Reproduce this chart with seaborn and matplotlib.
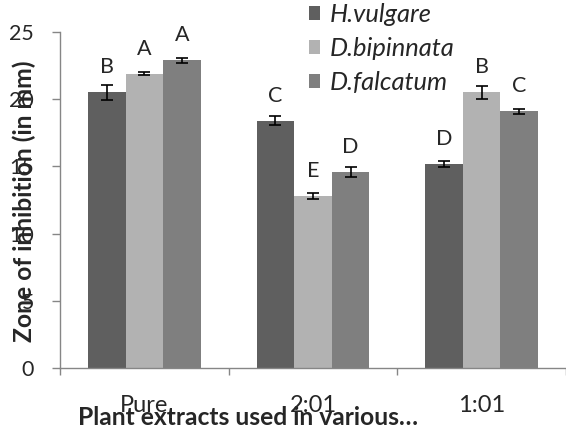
import pandas as pd
import numpy as np
import matplotlib.pyplot as plt
import seaborn as sns


# ----------------------------------------------------------
# Data
# ----------------------------------------------------------
categories = ["Pure", "2:01", "1:01"]
species = ["H.vulgare", "D.bipinnata", "D.falcatum"]

h_vulgare = [20.5, 18.4, 15.2]
d_bipinnata = [21.9, 12.8, 20.5]
d_falcatum = [22.9, 14.6, 19.1]

h_vulgare_err = [0.55, 0.35, 0.22]
d_bipinnata_err = [0.13, 0.2, 0.5]
d_falcatum_err = [0.2, 0.37, 0.19]

h_vulgare_letters = ["B", "C", "D"]
d_bipinnata_letters = ["A", "E", "B"]
d_falcatum_letters = ["A", "D", "C"]

colors = ["#5f5f5f", "#b2b2b2", "#7f7f7f"]
y_ticks = [0, 5, 10, 15, 20, 25]

W, H = 566, 434


def build_frame():
    rows = []
    values = [h_vulgare, d_bipinnata, d_falcatum]
    for sp, vals in zip(species, values):
        for cat, v in zip(categories, vals):
            rows.append({"ratio": cat, "species": sp, "zone": v})
    return pd.DataFrame(rows)


# scale a text so its drawn length matches the reference (in pixels)
def fit_text(fig, txt, target_px, vertical=False):
    fig.canvas.draw()
    bb = txt.get_window_extent()
    size = bb.height if vertical else bb.width
    txt.set_fontsize(txt.get_fontsize() * target_px / size)


def fit_ticks(fig, labels, index, target_px):
    fig.canvas.draw()
    scale = target_px / labels[index].get_window_extent().width
    for t in labels:
        t.set_fontsize(t.get_fontsize() * scale)


def add_legend(fig, ax, size, spacing):
    em = size * 100 / 72
    handles, labels = ax.get_legend_handles_labels()
    leg = ax.legend(handles, labels, loc="upper left",
                    bbox_to_anchor=(309 / W, 1 - 3 / H),
                    bbox_transform=fig.transFigure, frameon=False,
                    prop={"style": "italic", "size": size},
                    borderpad=0, borderaxespad=0, handlelength=11 / em,
                    handleheight=13 / em, handletextpad=10 / em,
                    labelspacing=spacing)
    return leg


def main():
    sns.set_style("white")
    plt.rcParams["font.family"] = ["Lato", "DejaVu Sans"]

    df = build_frame()

    fig = plt.figure(figsize=(W / 100, H / 100), dpi=100)
    ax = fig.add_axes([60 / W, 1 - 368 / H, 506 / W, 336 / H])

    sns.barplot(
        data=df, x="ratio", y="zone", hue="species",
        order=categories, hue_order=species,
        palette=colors, width=0.667, gap=0,
        errorbar=None, saturation=1, linewidth=0, ax=ax
    )

    errs = [h_vulgare_err, d_bipinnata_err, d_falcatum_err]
    letters = [h_vulgare_letters, d_bipinnata_letters, d_falcatum_letters]
    for container, err, labs in zip(ax.containers, errs, letters):
        xs = [p.get_x() + p.get_width() / 2 for p in container.patches]
        hs = [p.get_height() for p in container.patches]
        ax.errorbar(xs, hs, yerr=err, fmt="none", ecolor="black",
                    elinewidth=1.2, capsize=4.3, capthick=1.2, zorder=3)
        for x, h, lab in zip(xs, hs, labs):
            ax.annotate(lab, (x, h), xytext=(0, 13.7),
                        textcoords="offset points", ha="center",
                        va="baseline", fontsize=15.5)

    ax.set_ylim(0, 25)
    ax.set_xlim(-0.5, 2.5)
    ax.set_yticks(y_ticks)
    ax.set_yticklabels([str(t) for t in y_ticks], fontsize=14.5)
    ax.set_xticks(range(len(categories)))
    ax.set_xticklabels(categories, fontsize=14)
    ax.tick_params(axis="y", direction="out", length=5.8, width=1,
                   color="#868686", pad=13, left=True)
    ax.tick_params(axis="x", which="major", length=0, pad=19.5)
    ax.set_xticks([-0.5, 0.5, 1.5, 2.5], minor=True)
    ax.tick_params(axis="x", which="minor", direction="out", length=5,
                   width=1, color="#868686", bottom=True)

    for side in ["top", "right"]:
        ax.spines[side].set_visible(False)
    for side in ["left", "bottom"]:
        ax.spines[side].set_color("#868686")
        ax.spines[side].set_linewidth(1)
    ax.set_xlabel("")
    ax.set_ylabel("")

    # "2:01" is about 47 px wide, "25" about 25 px in the reference
    fit_ticks(fig, ax.get_xticklabels(), 1, 47)
    fit_ticks(fig, ax.get_yticklabels(), 5, 25)

    # legend: "D.bipinnata" ~125 px wide, rows ~34 px apart
    leg_size = 16
    leg = add_legend(fig, ax, leg_size, 0.3)
    fig.canvas.draw()
    leg_size *= 125 / leg.get_texts()[1].get_window_extent().width
    spacing = 0.3
    for _ in range(3):
        leg = add_legend(fig, ax, leg_size, spacing)
        fig.canvas.draw()
        ys = [t.get_window_extent().y0 for t in leg.get_texts()]
        pitch = (ys[0] - ys[2]) / 2
        spacing += (34 - pitch) / (leg_size * 100 / 72)

    xlab = fig.text(248 / W, 1 - 425 / H, "Plant extracts used in various…",
                    ha="center", va="baseline", fontsize=14.5,
                    fontweight="bold")
    fit_text(fig, xlab, 340)

    ylab = fig.text(24 / W, 1 - 201 / H, "Zone of inhibition (in mm)",
                    ha="center", va="center", rotation=90, fontsize=14.5,
                    fontweight="bold")
    fit_text(fig, ylab, 282, vertical=True)

    fig.savefig("out.png", dpi=100)
    plt.close(fig)


if __name__ == "__main__":
    main()
